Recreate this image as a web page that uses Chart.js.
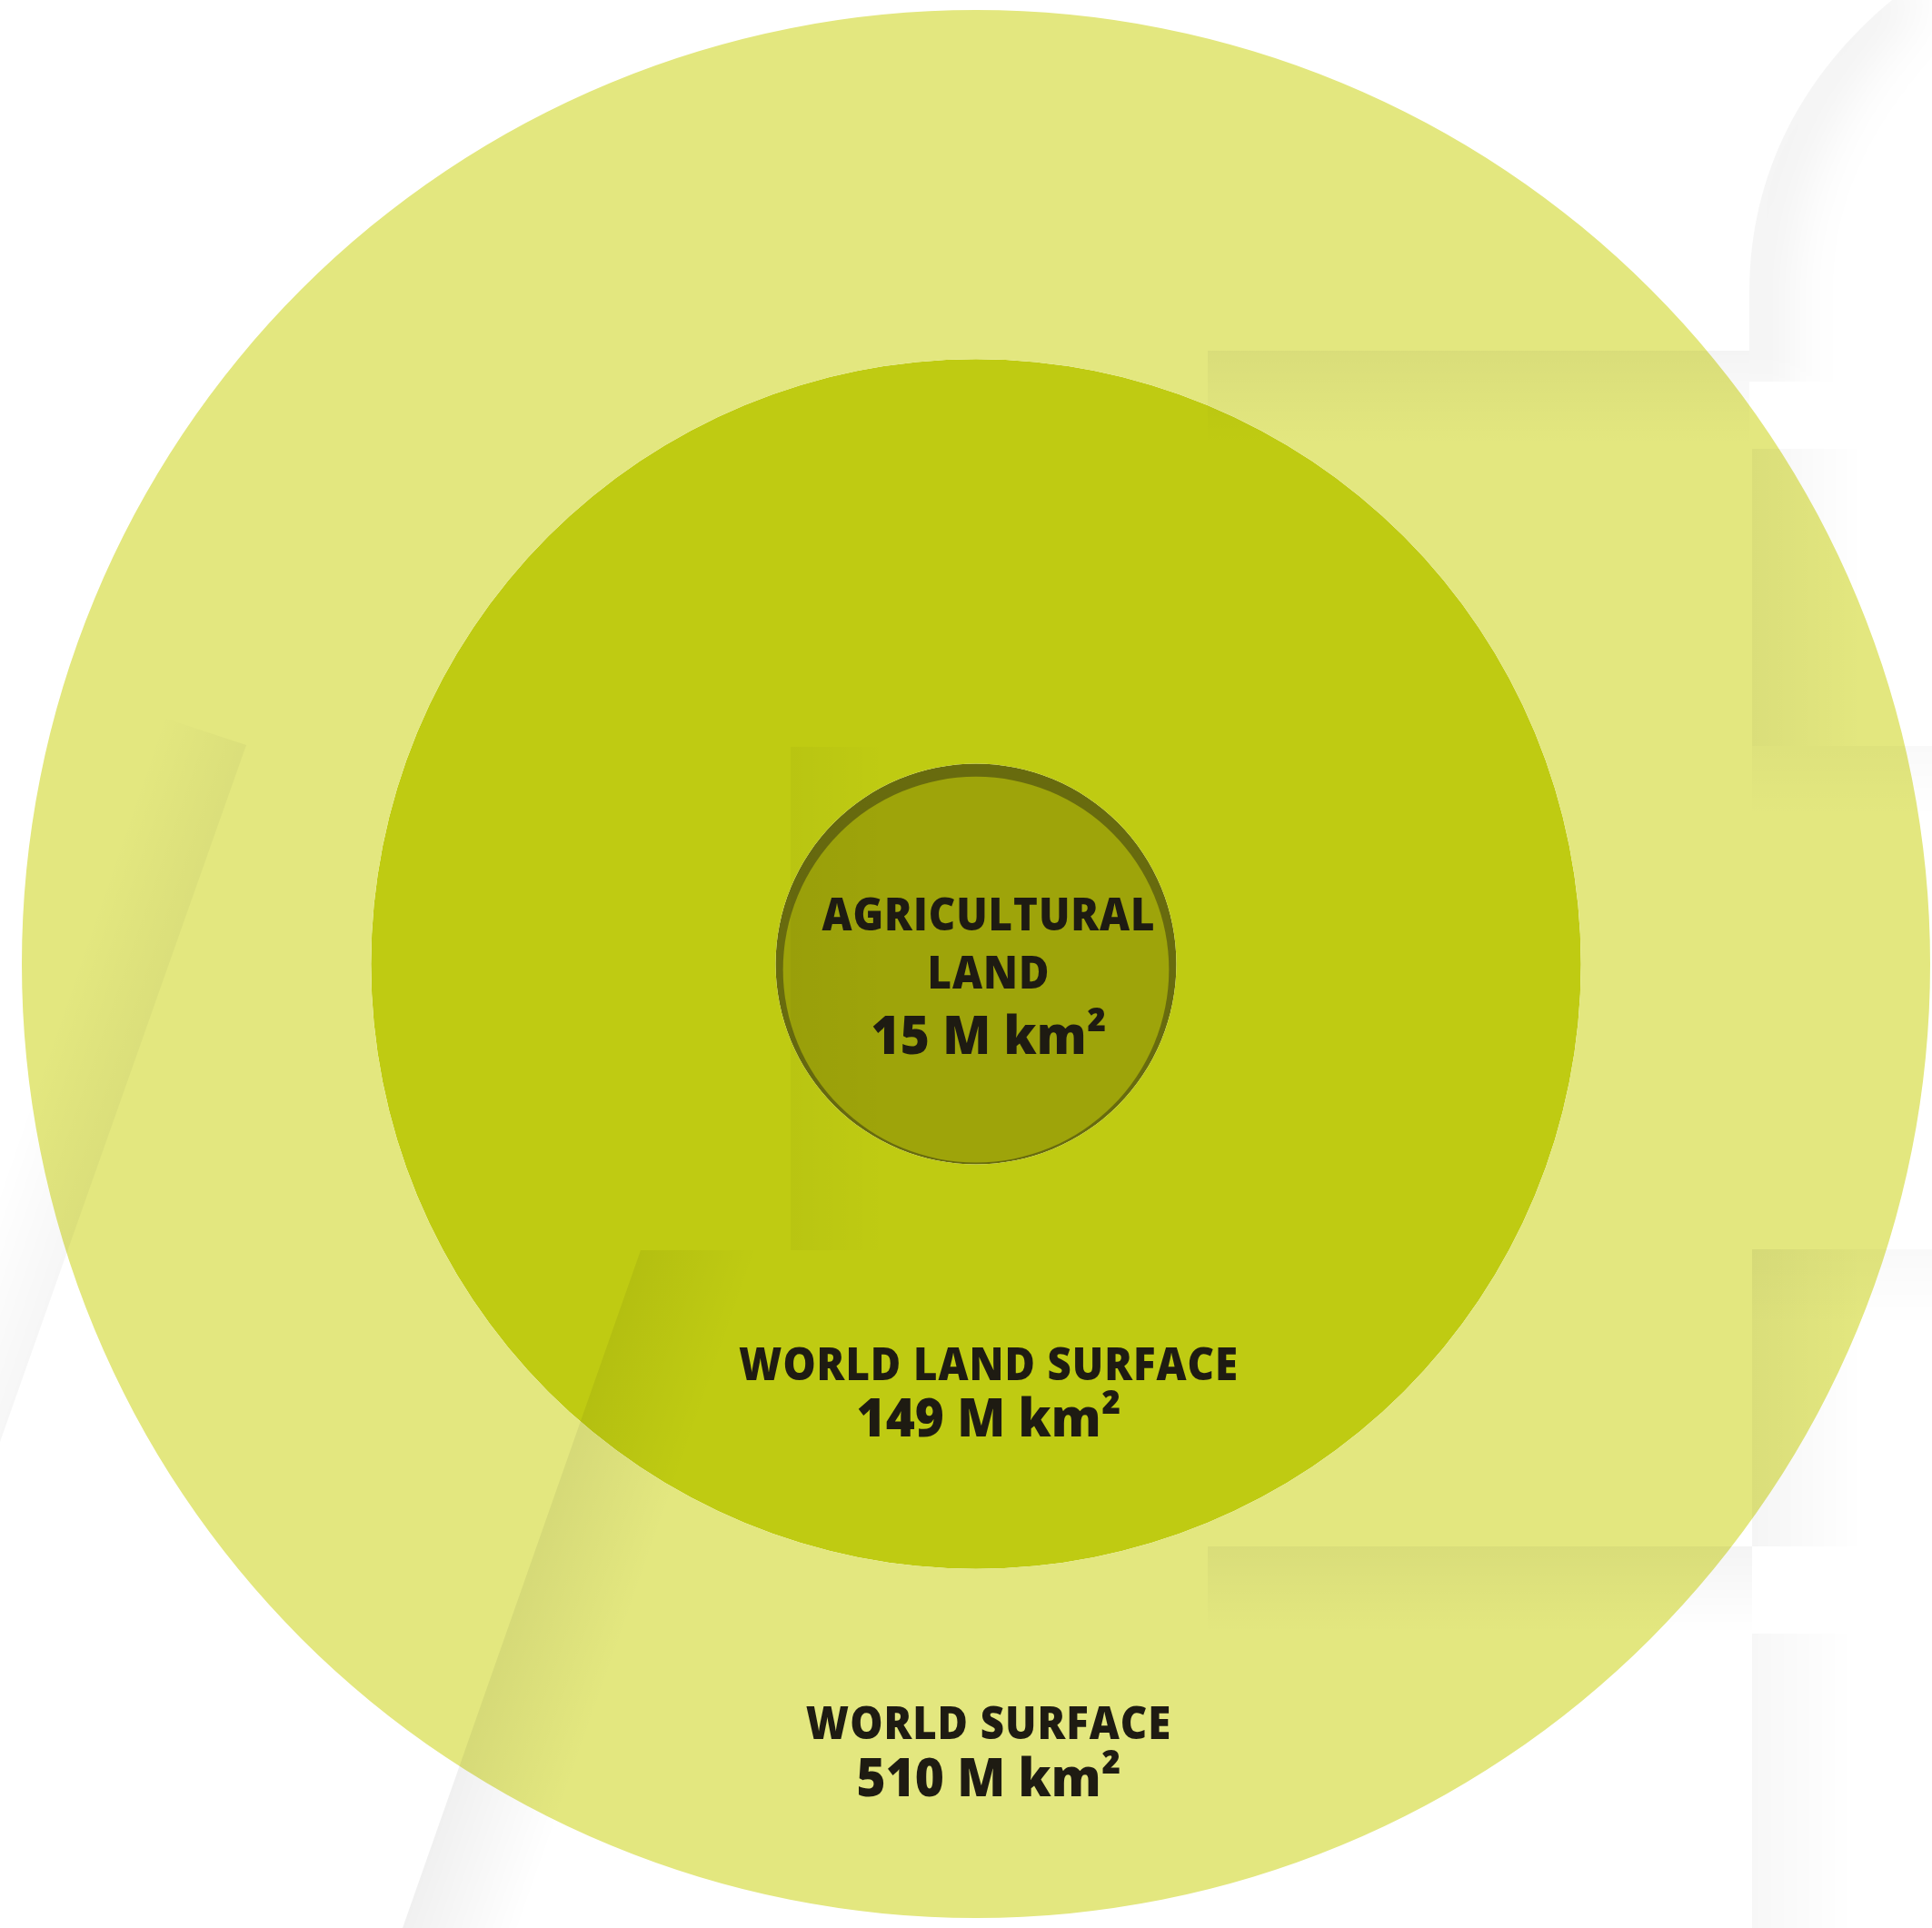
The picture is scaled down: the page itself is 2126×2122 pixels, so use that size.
<!DOCTYPE html>
<html>
<head>
<meta charset="utf-8">
<script src="https://cdn.jsdelivr.net/npm/chart.js@4/dist/chart.umd.min.js"></script>
<style>
  html, body { margin: 0; padding: 0; background: #ffffff; }
  #wrap { width: 2126px; height: 2122px; position: relative; }
</style>
</head>
<body>
<div id="wrap"><canvas id="myChart"></canvas></div>
<script>
// Surface areas, in million km², outermost first
const areaNames = [['WORLD SURFACE'], ['WORLD LAND SURFACE'], ['AGRICULTURAL', 'LAND']];
const areaValues = [510, 149, 15];
const areaUnit = 'M km²';

// Look of each disc
const areaColors = ['#e3e77f', '#bfcb12', '#686b0e'];
const innerFace = '#9ea40a';
// Outer edge of each disc as a share of the full radius
const discRadius = [1, 0.634, 0.21];
// Baselines of the name lines and of the value line, px from the centre
const nameBase = [853, 458, -37];
const valueBase = [916, 520, 99];
const textShift = 14;

// Soft shading of the faint logo behind the figure (px on a 2126 wide page)
// poly, gradient start, gradient end, strength
const logoShades = [
    [[[1329, 386], [1925, 386], [1925, 494], [1329, 494]], [0, 386], [0, 490], 0.045],
    [[[1928, 494], [2050, 494], [2050, 821], [1928, 821]], [1928, 0], [2050, 0], 0.04],
    [[[1928, 821], [2126, 821], [2126, 900], [1928, 900]], [0, 821], [0, 900], 0.025],
    [[[1928, 1375], [2050, 1375], [2050, 1702], [1928, 1702]], [1928, 0], [2050, 0], 0.04],
    [[[1928, 1375], [2126, 1375], [2126, 1460], [1928, 1460]], [0, 1375], [0, 1460], 0.025],
    [[[1329, 1702], [1928, 1702], [1928, 1798], [1329, 1798]], [0, 1702], [0, 1798], 0.045],
    [[[1928, 1798], [2040, 1798], [2040, 2122], [1928, 2122]], [1928, 0], [2040, 0], 0.03],
    [[[870, 822], [975, 822], [975, 1376], [870, 1376]], [870, 0], [975, 0], 0.03],
    [[[705, 1376], [830, 1376], [570, 2122], [443, 2122]], [574, 1749], [690, 1790], 0.06],
    [[[271, 820], [0, 1587], [-90, 1555], [180, 790]], [135, 1203], [45, 1172], 0.035]
];

// Pie rings stacked outward -> ring weight = gap to the next disc in
const weights = discRadius.map((r, i) => r - (discRadius[i + 1] || 0));

function drawLogoShade(ctx, chart) {
    const k = chart.width / 2126;
    ctx.save();
    ctx.scale(k, k);
    logoShades.forEach(([poly, g0, g1, a]) => {
        const grad = ctx.createLinearGradient(g0[0], g0[1], g1[0], g1[1]);
        grad.addColorStop(0, 'rgba(0,0,0,' + a + ')');
        grad.addColorStop(1, 'rgba(0,0,0,0)');
        ctx.fillStyle = grad;
        ctx.beginPath();
        poly.forEach(([x, y], i) => (i ? ctx.lineTo(x, y) : ctx.moveTo(x, y)));
        ctx.closePath();
        ctx.fill();
    });

    // curved hook at the top right, shaded on its outer side
    ctx.save();
    ctx.beginPath();
    ctx.moveTo(1925, 420);
    ctx.lineTo(1925, 321);
    ctx.bezierCurveTo(1925, 190, 1985, 80, 2082, 0);
    ctx.lineTo(2126, 0);
    ctx.lineTo(2126, 420);
    ctx.closePath();
    ctx.clip();
    ctx.filter = 'blur(28px)';
    ctx.strokeStyle = 'rgba(0,0,0,0.05)';
    ctx.lineWidth = 70;
    ctx.beginPath();
    ctx.moveTo(1935, 440);
    ctx.lineTo(1935, 321);
    ctx.bezierCurveTo(1935, 190, 1995, 80, 2092, -20);
    ctx.stroke();
    ctx.restore();
    ctx.restore();
}

const labelPlugin = {
    id: 'areaLabels',
    afterDatasetsDraw(chart) {
        const ctx = chart.ctx;
        const outer = chart.getDatasetMeta(0).data[0].getProps(['x', 'y', 'outerRadius'], true);
        const inner = chart.getDatasetMeta(2).data[0].getProps(['x', 'y', 'outerRadius'], true);

        // lighter face on the small disc, dropped a bit so a dark rim shows on top
        ctx.save();
        ctx.fillStyle = innerFace;
        ctx.beginPath();
        ctx.arc(inner.x, inner.y + inner.outerRadius * 0.028, inner.outerRadius * 0.963, 0, Math.PI * 2);
        ctx.fill();
        ctx.restore();

        drawLogoShade(ctx, chart);

        ctx.save();
        ctx.fillStyle = '#1e1b12';
        ctx.textAlign = 'center';
        ctx.textBaseline = 'alphabetic';
        const cx = outer.x + textShift;
        // narrow the type a little, the face is wider than the original one
        ctx.translate(cx, 0);
        ctx.scale(0.93, 1);
        areaNames.forEach((lines, i) => {
            ctx.font = '800 49px "Open Sans"';
            ctx.letterSpacing = '1px';
            lines.forEach((line, j) => {
                ctx.fillText(line, 0, outer.y + nameBase[i] + j * 64);
            });
            ctx.font = '800 59px "Open Sans"';
            ctx.letterSpacing = '0px';
            ctx.fillText(areaValues[i] + ' ' + areaUnit, 0, outer.y + valueBase[i]);
        });
        ctx.restore();
    }
};

window.onload = function () {
    const ctx = document.getElementById('myChart').getContext('2d');
    new Chart(ctx, {
        type: 'pie',
        data: {
            labels: ['area'],
            datasets: areaValues.map((v, i) => ({
                label: areaNames[i].join(' '),
                data: [v],
                backgroundColor: areaColors[i],
                borderWidth: 0,
                weight: weights[i]
            }))
        },
        options: {
            responsive: true,
            maintainAspectRatio: false,
            animation: false,
            layout: { padding: { left: 24, right: 2, top: 11, bottom: 11 } },
            plugins: {
                legend: { display: false },
                tooltip: { enabled: false }
            }
        },
        plugins: [labelPlugin]
    });
};
</script>
</body>
</html>
